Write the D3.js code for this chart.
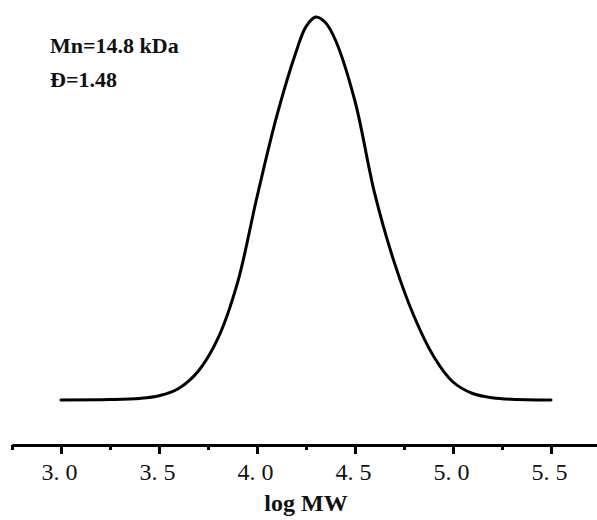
<!DOCTYPE html>
<meta charset="utf-8">
<style>
body { margin: 0; background: #fff; }
.curve { fill: none; stroke: #000; stroke-width: 3px; }
.axis .domain { stroke: #000; stroke-width: 3px; }
.axis line { stroke: #000; stroke-width: 3px; }
.axis text { font-family: "Liberation Serif", serif; font-size: 24px; fill: #111; }
.note { font-family: "Liberation Serif", serif; font-weight: bold; font-size: 22px; fill: #111; }
</style>
<body>
<svg width="597" height="520" id="gpc"></svg>
<script src="https://d3js.org/d3.v7.min.js"></script>
<script>
// GPC trace (intensity normalised to peak = 1)
var logMW = [3.0, 3.25, 3.4, 3.5, 3.6, 3.7, 3.8, 3.9, 4.0, 4.1, 4.2, 4.25, 4.3, 4.35, 4.4, 4.5, 4.6, 4.7, 4.8, 4.9, 5.0, 5.1, 5.2, 5.3, 5.5];
var intensity = [0, 0.001, 0.004, 0.011, 0.03, 0.075, 0.16, 0.305, 0.53, 0.74, 0.91, 0.975, 1.0, 0.985, 0.94, 0.78, 0.54, 0.36, 0.22, 0.115, 0.047, 0.017, 0.006, 0.002, 0];
var majorTicks = [3.0, 3.5, 4.0, 4.5, 5.0, 5.5];
var minorTicks = [2.75, 3.25, 3.75, 4.25, 4.75, 5.25, 5.75];
var notes = ["Mn=14.8 kDa", "\u0110=1.48"];
var xTitle = "log MW";

var svg = d3.select("#gpc");
var x = d3.scaleLinear().domain([2.75, 5.75]).range([12, 600]);
var y = d3.scaleLinear().domain([0, 1]).range([400, 17]);
var axisY = 445;

var pts = logMW.map(function(d, i) { return {mw: d, v: intensity[i]}; });
var line = d3.line()
    .curve(d3.curveCatmullRom.alpha(0.5))
    .x(function(d) { return x(d.mw); })
    .y(function(d) { return y(d.v); });

svg.append("path")
    .datum(pts)
    .attr("class", "curve")
    .attr("stroke-linecap", "round")
    .attr("d", line);

// minor ticks first, then major ticks with labels
svg.append("g")
    .attr("class", "axis")
    .attr("transform", "translate(0," + axisY + ")")
    .call(d3.axisBottom(x).tickValues(minorTicks).tickSize(5).tickSizeOuter(0).tickFormat(""));

var xa = svg.append("g")
    .attr("class", "axis")
    .attr("transform", "translate(0," + axisY + ")")
    .call(d3.axisBottom(x).tickValues(majorTicks).tickSize(9).tickSizeOuter(0).tickPadding(9).tickFormat(d3.format(".1f")));
xa.selectAll(".tick text").each(function(d) {
  var s = d3.format(".1f")(d).split(".");
  var t = d3.select(this).text(null);
  t.append("tspan").text(s[0] + ".");
  t.append("tspan").attr("dx", 6).text(s[1]);
  t.attr("dx", -2);
});

svg.append("text")
    .attr("class", "note")
    .attr("x", x(4.25))
    .attr("y", 511)
    .attr("text-anchor", "middle")
    .style("font-size", "24px")
    .text(xTitle);

svg.selectAll(".ann")
    .data(notes)
  .enter().append("text")
    .attr("class", "note")
    .attr("x", 50)
    .attr("y", function(d, i) { return 53 + i * 34; })
    .text(function(d) { return d; });
</script>
</body>
